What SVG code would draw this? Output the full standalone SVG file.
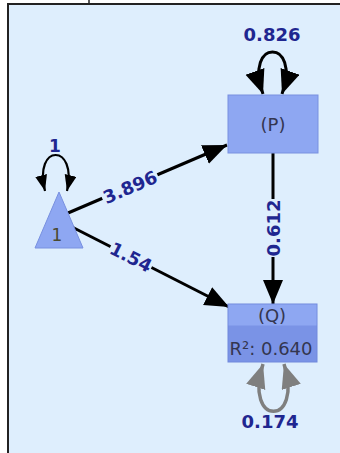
<svg xmlns="http://www.w3.org/2000/svg" width="340" height="453" viewBox="0 0 340 453">
<style>
.bg{fill:#deeefd}
.frame{stroke:#222;stroke-width:2;fill:none}
.edge{stroke:#000;stroke-width:3;fill:none}
.lbl{font-family:"DejaVu Sans",Verdana,sans-serif;font-weight:bold;font-size:18px;fill:#1f2690;text-anchor:middle}
.lblbg{fill:#deeefd}
.node{fill:#8ea7f2;stroke:#7890e0;stroke-width:1}
.ntxt{font-family:"DejaVu Sans",Verdana,sans-serif;font-size:18px;fill:#343650;text-anchor:middle}
</style>
<defs>
<marker id="ah" markerUnits="userSpaceOnUse" markerWidth="26" markerHeight="22" refX="24" refY="10" orient="auto-start-reverse"><path d="M0,0 L24,10 L0,20 z" fill="#000"/></marker>
<marker id="ahs" markerUnits="userSpaceOnUse" markerWidth="18" markerHeight="14" refX="16" refY="6" orient="auto-start-reverse"><path d="M0,0 L16,6 L0,12 z" fill="#000"/></marker>
<marker id="ahg" markerUnits="userSpaceOnUse" markerWidth="26" markerHeight="22" refX="24" refY="10" orient="auto-start-reverse"><path d="M0,0 L24,10 L0,20 z" fill="#7f7f7f"/></marker>
</defs>
<rect x="0" y="0" width="340" height="453" fill="#fff"/>
<rect class="bg" x="9" y="5" width="331" height="448"/>
<path class="frame" d="M8,453 L8,4 L340,4"/>
<line x1="89" y1="0" x2="89" y2="4" stroke="#222" stroke-width="1.5"/>
<g id="connectors">
<line class="edge" x1="68" y1="213" x2="227" y2="145" marker-end="url(#ah)"/>
<line class="edge" x1="72" y1="227" x2="229" y2="307" marker-end="url(#ah)"/>
<line class="edge" x1="273" y1="153" x2="273" y2="304" marker-end="url(#ah)"/>
<path d="M45,191 C33,143 78,143 67,191" stroke="#000" stroke-width="2.2" fill="none" marker-start="url(#ahs)" marker-end="url(#ahs)"/>
<path d="M263,94 C243,38 302,38 282,94" stroke="#000" stroke-width="3" fill="none" marker-start="url(#ah)" marker-end="url(#ah)"/>
<path d="M263,364 C243,427 304,427 284,364" stroke="#7f7f7f" stroke-width="3.5" fill="none" marker-start="url(#ahg)" marker-end="url(#ahg)"/>
<g transform="translate(130,187) rotate(-23.2)"><rect class="lblbg" x="-30" y="-10" width="60" height="20"/><text class="lbl" x="0" y="6.5">3.896</text></g>
<g transform="translate(131,257) rotate(27)"><rect class="lblbg" x="-23" y="-10" width="46" height="20"/><text class="lbl" x="0" y="6.5">1.54</text></g>
<g transform="translate(273,228) rotate(-90)"><rect class="lblbg" x="-29" y="-10" width="58" height="20"/><text class="lbl" x="0" y="6.5">0.612</text></g>
<text class="lbl" x="272" y="41">0.826</text>
<text class="lbl" x="270" y="428">0.174</text>
<text class="lbl" x="55" y="152" style="font-weight:600;font-size:17px">1</text>
</g>
<g id="node-P">
<rect class="node" x="228" y="95" width="90" height="58"/>
<text class="ntxt" x="273" y="131">(P)</text>
</g>
<g id="node-Q">
<rect x="228" y="304" width="89" height="58" fill="#7a93e6" stroke="#7088dc" stroke-width="1"/>
<rect x="228.5" y="304.5" width="88" height="21" fill="#8ea7f2"/>
<text class="ntxt" x="272" y="322">(Q)</text>
<text class="ntxt" x="271" y="355">R²: 0.640</text>
</g>
<g id="node-1">
<polygon points="59,192 83,248 35,248" fill="#8ea7f2" stroke="#7890e0" stroke-width="1"/>
<text class="ntxt" x="57" y="241" style="font-size:17px;fill:#4a4a30">1</text>
</g>
</svg>
